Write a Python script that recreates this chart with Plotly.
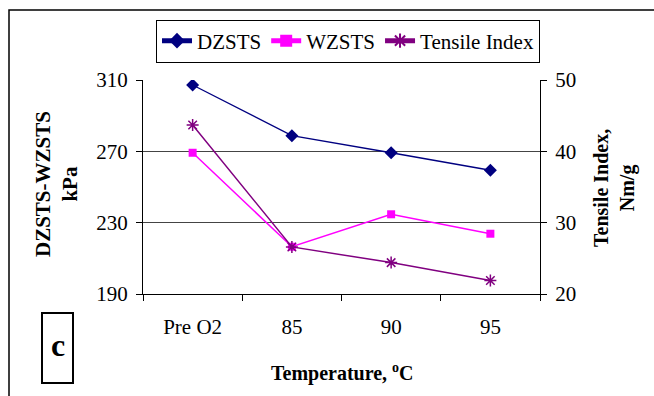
import plotly.graph_objects as go

categories = ["Pre O2", "85", "90", "95"]
dzsts = [307.2, 278.8, 269.2, 259.4]
wzsts = [269.2, 216.5, 234.7, 223.8]
tensile = [43.7, 26.6, 24.4, 21.9]

W, H = 654, 396
L, R, T, B = 143, 540, 80, 294
FONT = "Times New Roman"

def px(x):
    return (x - L) / (R - L)

def py(y):
    return (B - y) / (B - T)

fig = go.Figure()
fig.add_trace(go.Scatter(x=categories, y=dzsts, name="DZSTS", mode="lines+markers",
                         line=dict(color="#000080", width=1.3),
                         marker=dict(symbol="diamond", size=10, color="#000080")))
fig.add_trace(go.Scatter(x=categories, y=wzsts, name="WZSTS", mode="lines+markers",
                         line=dict(color="#FF00FF", width=1.5),
                         marker=dict(symbol="square", size=8, color="#FF00FF")))
fig.add_trace(go.Scatter(x=categories, y=tensile, name="Tensile Index", mode="lines+markers",
                         yaxis="y2",
                         line=dict(color="#800080", width=1.5),
                         marker=dict(symbol="asterisk-open", size=10,
                                     line=dict(color="#800080", width=1.5))))

fig.update_layout(
    width=W, height=H,
    margin=dict(l=L, r=W - R, t=T, b=H - B, pad=0),
    paper_bgcolor="white", plot_bgcolor="white",
    font=dict(family=FONT, size=21, color="black"),
    showlegend=True,
    legend=dict(orientation="h", x=px(348), xanchor="center", y=py(41), yanchor="middle",
                bordercolor="black", borderwidth=1, bgcolor="white",
                font=dict(family=FONT, size=21), itemwidth=30, tracegroupgap=0,
                itemsizing="constant"),
    xaxis=dict(type="category", range=[-0.5, 3.5], showline=True, linecolor="black", linewidth=1,
               ticks="outside", tickson="boundaries", ticklen=6, tickcolor="black",
               showgrid=False, mirror=False, ticklabelstandoff=14,
               tickfont=dict(family=FONT, size=21)),
    yaxis=dict(range=[190, 310], dtick=40, tick0=190, showline=True, linecolor="black", linewidth=1,
               ticks="outside", ticklen=6, tickcolor="black",
               showgrid=True, gridcolor="#444444", gridwidth=1, zeroline=False,
               tickfont=dict(family=FONT, size=21), ticklabelstandoff=4),
    yaxis2=dict(range=[20, 50], dtick=10, tick0=20, overlaying="y", side="right",
                showline=True, linecolor="black", linewidth=1,
                ticks="outside", ticklen=6, tickcolor="black",
                showgrid=False, zeroline=False,
                tickfont=dict(family=FONT, size=21), ticklabelstandoff=4),
)

annotations = [
    dict(text="<b>Temperature, <sup>o</sup>C</b>", x=px(342), y=py(372), xref="paper", yref="paper",
         showarrow=False, xanchor="center", yanchor="middle", font=dict(family=FONT, size=20)),
    dict(text="<b>DZSTS-WZSTS<br>kPa</b>", x=px(56), y=py(184), xref="paper", yref="paper",
         showarrow=False, xanchor="center", yanchor="middle", textangle=-90,
         font=dict(family=FONT, size=21)),
    dict(text="<b>Tensile Index,<br>Nm/g</b>", x=px(614), y=py(188), xref="paper", yref="paper",
         showarrow=False, xanchor="center", yanchor="middle", textangle=-90,
         font=dict(family=FONT, size=20)),
    dict(text="<b>c</b>", x=px(57.5), y=py(345), xref="paper", yref="paper",
         showarrow=False, xanchor="center", yanchor="middle",
         font=dict(family=FONT, size=32)),
]
fig.update_layout(annotations=annotations)

shapes = [
    dict(type="rect", xref="paper", yref="paper", x0=px(9), x1=px(700), y0=py(450), y1=py(10),
         line=dict(color="black", width=1.5), fillcolor="rgba(0,0,0,0)", layer="below"),
    dict(type="rect", xref="paper", yref="paper", x0=px(42), x1=px(73), y0=py(383), y1=py(313),
         line=dict(color="black", width=2), fillcolor="rgba(0,0,0,0)"),
]
fig.update_layout(shapes=shapes)

fig.write_html("out.html")
